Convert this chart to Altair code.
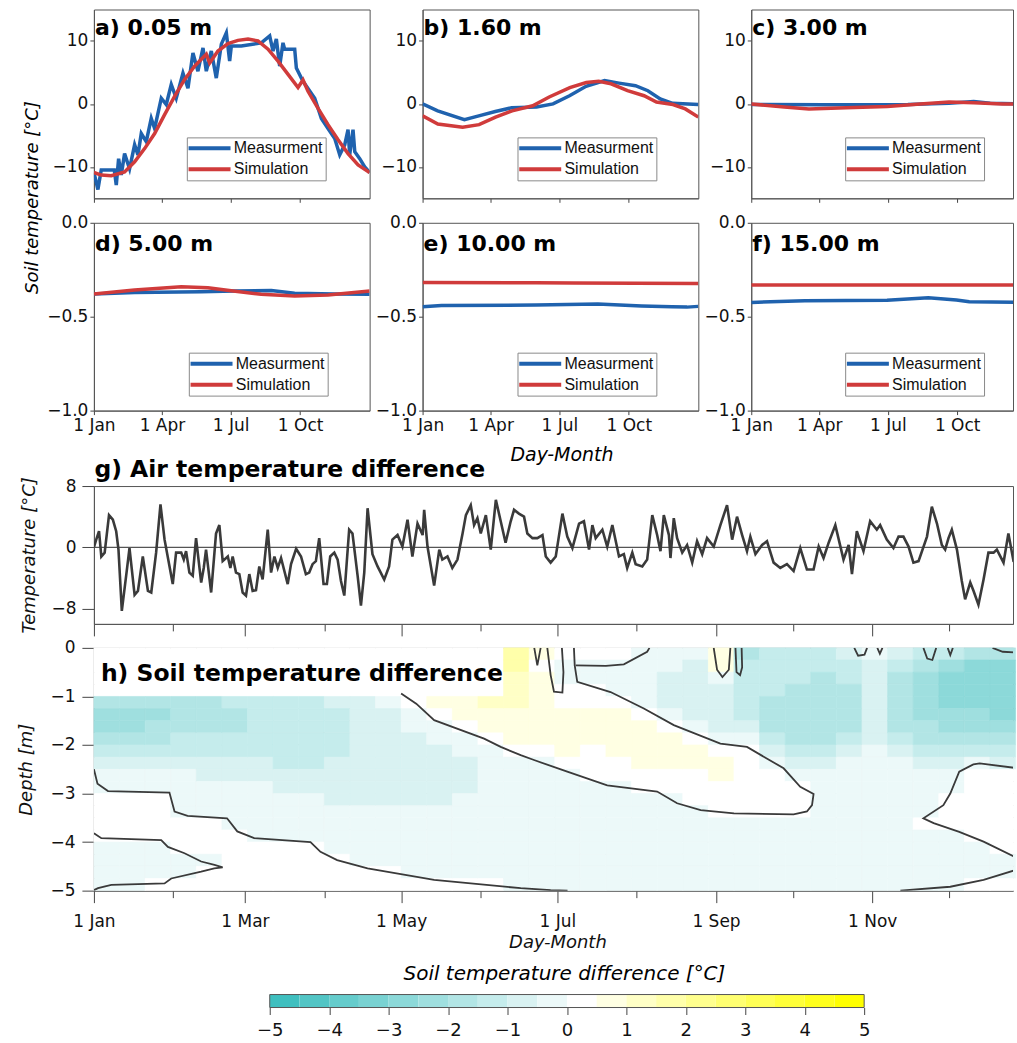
import altair as alt
import pandas as pd

FONT = "DejaVu Sans"
LEGFONT = "Liberation Sans"
BLUE = "#1f62ae"
RED = "#d03b3b"
INK = "#3a3a3a"
SERIES = ["Measurment", "Simulation"]

# ---------------- axis ticks (day of year) ----------------
month_start = [0, 31, 59, 90, 120, 151, 181, 212, 243, 273, 304, 334]
quarter_start = [0, 90, 181, 273]
QEXPR = ("datum.value == 0 ? '1 Jan' : datum.value == 90 ? '1 Apr' : "
         "datum.value == 181 ? '1 Jul' : datum.value == 273 ? '1 Oct' : ''")
HEXPR = ("datum.value == 0 ? '1 Jan' : datum.value == 59 ? '1 Mar' : "
         "datum.value == 120 ? '1 May' : datum.value == 181 ? '1 Jul' : "
         "datum.value == 243 ? '1 Sep' : datum.value == 304 ? '1 Nov' : ''")
MINOR_TEST = "indexof([31, 90, 151, 212, 273, 334], datum.value) >= 0"

# ---------------- panel a: 0.05 m ----------------
a_meas_day = [0, 5.3, 9.7, 27, 29.6, 32.7, 36.2, 40.6, 47.2, 53.9, 58.3, 62.7, 69.3, 75.9,
              80.4, 89.2, 95.8, 102.4, 109, 117.9, 124.5, 131.1, 137.7, 144.4, 148.8, 155.4,
              162, 168.7, 175.3, 179.7, 181.9, 195.1, 221.6, 232.7, 237.1, 241.5, 245.9,
              250.3, 252.5, 265.8, 268, 276.8, 292.3, 301.1, 309.9, 318.8, 325.4, 332,
              336.4, 338.6, 343, 345.3, 351.9, 358.5, 365]
a_meas = [-10.9, -13.6, -10.5, -10.5, -12.9, -8.7, -11.3, -7.9, -10.3, -6.5, -8.1, -4.7,
          -6.0, -2.3, -3.9, 0.9, -0.1, 3.1, 0.9, 4.9, 2.5, 8.1, 5.2, 8.9, 5.2, 8.4, 4.1, 9.5,
          11.3, 6.8, 9.2, 9.2, 9.7, 10.8, 8.4, 10.3, 6.0, 9.7, 8.7, 8.7, 5.7, 3.6, 0.9, -2.3,
          -3.9, -5.5, -8.1, -6.5, -4.1, -8.1, -4.1, -7.6, -8.7, -10.0, -10.9]
a_sim_day = [0, 9.7, 23, 40.6, 53.9, 67.1, 80.4, 93.6, 106.8, 120.1, 133.3, 148.8, 153.2,
             164.2, 177.5, 190.7, 204, 217.2, 230.5, 243.7, 257, 270.2, 276.8, 283.4, 296.7,
             309.9, 323.2, 336.4, 349.7, 365]
a_sim = [-10.9, -11.3, -11.4, -10.8, -9.2, -7.1, -4.7, -1.7, 1.2, 3.9, 6.0, 7.9, 6.5, 8.4,
         9.6, 10.1, 10.3, 10.0, 8.7, 6.8, 4.7, 2.6, 3.8, 2.0, -0.7, -3.3, -5.7, -7.9, -9.7,
         -10.9]

# ---------------- panel b: 1.60 m ----------------
b_meas_day = [0, 20, 55.4, 74.4, 96.3, 118.1, 150.9, 172.7, 194.5, 216.4, 240.9, 260, 281.8,
              298.2, 314.6, 331, 365]
b_meas = [0.0, -1.1, -2.5, -1.9, -1.2, -0.6, -0.5, 0.0, 1.3, 2.8, 3.7, 3.3, 2.9, 2.1, 0.8,
          0.1, -0.1]
b_sim_day = [0, 20.2, 53, 74.8, 96.6, 118.5, 145.8, 167.6, 194.9, 216.7, 233.1, 249.5, 271.3,
             293.2, 309.6, 331.4, 347.8, 365]
b_sim = [-1.9, -3.2, -3.7, -3.3, -2.1, -1.1, -0.3, 1.1, 2.6, 3.4, 3.6, 3.2, 2.1, 1.3, 0.3,
         -0.1, -0.8, -2.1]

# ---------------- panel c: 3.00 m ----------------
c_meas_day = [0, 98, 207.6, 262, 294.9, 316.7, 354]
c_meas = [-0.1, -0.15, -0.1, 0.1, 0.4, 0.1, 0.0]
c_sim_day = [0, 43.8, 76.5, 125.7, 180.3, 224, 262.2, 294.9, 333.1, 354]
c_sim = [0.0, -0.5, -0.8, -0.6, -0.4, 0.0, 0.3, 0.2, 0.0, 0.0]

# ---------------- panel d: 5.00 m ----------------
d_meas_day = [0, 53.8, 142, 186, 234.8, 265.7, 318.7, 365]
d_meas = [-0.379, -0.371, -0.367, -0.363, -0.360, -0.375, -0.379, -0.381]
d_sim_day = [0, 53.8, 115.6, 150.9, 181.7, 221.4, 265.7, 309.9, 365]
d_sim = [-0.379, -0.358, -0.340, -0.346, -0.362, -0.381, -0.390, -0.385, -0.363]

# ---------------- panel e: 10.00 m ----------------
e_meas_day = [0, 25, 150, 232, 290, 330, 350, 365]
e_meas = [-0.447, -0.440, -0.438, -0.433, -0.443, -0.447, -0.449, -0.445]
e_sim_day = [0, 150, 200, 365]
e_sim = [-0.318, -0.319, -0.321, -0.323]

# ---------------- panel f: 15.00 m ----------------
f_meas_day = [0, 71, 180, 234.7, 272, 289, 354]
f_meas = [-0.424, -0.415, -0.413, -0.399, -0.411, -0.420, -0.424]
f_sim_day = [0, 354]
f_sim = [-0.331, -0.331]

# ---------------- panel g: air temperature difference ----------------
air_day = [0, 0.9, 2.0, 2.9, 4.2, 5.9, 7.4, 8.7, 9.6, 10.9, 12.6, 13.9, 15.9, 17.2, 19.1, 21.1,
           22.4, 24.3, 26.0, 27.6, 30.8, 32.1, 34.1, 35.1, 36.0, 37.3, 38.6, 39.9, 41.9, 42.9,
           43.8, 45.8, 47.7, 49.0, 50.3, 52.3, 53.3, 54.2, 55.5, 56.8, 58.1, 59.4, 60.7, 62.0,
           63.3, 64.6, 65.9, 67.9, 69.2, 70.5, 71.8, 73.1, 75.7, 77.0, 79.0, 80.9, 82.8, 84.1,
           85.4, 86.7, 88.0, 89.7, 91.0, 92.3, 93.9, 95.2, 96.5, 97.8, 99.7, 101.0, 103.0,
           104.3, 105.6, 106.9, 108.8, 110.8, 113.4, 115.3, 116.6, 118.6, 120.5, 122.5, 124.4,
           126.4, 128.4, 129.0, 130.3, 132.9, 134.9, 136.1, 138.1, 140.0, 142.0, 144.0, 145.3,
           147.2, 148.5, 149.8, 151.1, 153.1, 155.0, 157.0, 158.9, 160.8, 162.8, 164.1, 166.0,
           168.0, 169.3, 171.3, 173.2, 175.2, 176.5, 178.4, 180.4, 183.0, 184.9, 186.9, 189.5,
           191.4, 193.4, 194.7, 196.0, 198.6, 200.5, 202.5, 205.1, 207.0, 208.3, 210.3, 211.6,
           214.2, 216.1, 218.1, 220.0, 221.3, 222.6, 224.6, 225.2, 226.5, 227.8, 229.8, 231.7,
           233.7, 235.6, 237.6, 239.5, 242.1, 244.7, 247.3, 249.3, 251.2, 253.2, 255.1, 256.4,
           258.4, 261.0, 262.9, 265.5, 268.1, 270.7, 273.3, 275.9, 278.5, 281.1, 283.1, 285.0,
           287.0, 289.6, 292.8, 294.8, 296.1, 298.0, 300.6, 303.2, 305.8, 307.1, 309.7, 312.3,
           314.3, 316.2, 318.2, 320.1, 322.1, 325.4, 327.3, 329.3, 331.2, 332.5, 333.8, 335.1,
           337.1, 339.0, 340.3, 342.3, 343.6, 345.5, 347.5, 349.4, 351.4, 352.7, 355.3, 357.2,
           359.2, 360.6]
air_diff = [0.0, 1.0, 2.1, -1.2, -0.7, 4.2, 3.6, 2.1, -0.3, -8.3, -3.7, -0.1, -6.2, -5.7, -1.2,
            -5.7, -5.9, -0.7, 5.6, 1.0, -4.8, -0.7, -0.7, -1.6, -0.5, -3.3, -3.7, 1.2, -4.6,
            -2.7, -0.3, -5.9, 1.8, 2.9, -1.8, -1.2, -2.7, -1.2, -3.3, -3.5, -5.9, -6.3, -3.5,
            -5.7, -5.6, -2.5, -4.2, 2.3, -3.3, -1.2, -2.7, -1.4, -4.8, -2.2, -0.2, -1.2, -3.5,
            -3.3, -2.2, -1.8, 1.2, -4.8, -4.8, -1.2, -0.7, -1.6, -4.4, -6.3, 2.3, 1.8, -3.7,
            -7.6, -3.3, 5.1, -0.9, -2.5, -4.2, -2.5, 1.0, 1.6, 0.1, 3.6, -1.2, 3.1, 1.6, 4.9,
            0.1, -5.0, -0.3, -1.6, -1.2, -2.7, -1.6, 1.8, 4.2, 5.5, 2.9, 3.8, 1.8, 4.2, -0.3,
            6.2, 3.4, 0.6, 3.4, 4.9, 4.4, 4.0, 1.8, 1.2, 1.2, 1.6, -1.2, -2.0, -1.2, 4.4, 1.4,
            -0.1, 3.1, 3.4, -0.3, 2.9, 1.2, 2.3, 0.1, 2.9, -1.2, -0.9, -2.7, -0.7, -2.2, -2.5,
            -1.6, 4.2, 1.6, -0.5, 4.2, 1.6, -1.4, 3.8, 1.2, -0.7, 0.3, -2.0, 0.8, -0.9, 1.2,
            0.1, 2.9, 5.5, 1.0, 4.0, 1.6, -0.5, 1.4, -0.9, 0.3, 0.8, -2.0, -2.7, -2.2, -3.1,
            -0.1, -2.9, -2.9, 0.1, -1.4, 0.6, 2.9, -1.6, 0.3, -3.5, 2.1, -0.5, 3.4, 2.3, 2.9,
            1.0, -0.1, 1.4, 1.4, 0.1, -2.0, -1.8, 1.4, 5.3, 3.1, 0.3, -0.3, 1.2, 2.3, -0.3,
            -4.4, -6.8, -4.6, -5.7, -7.5, -4.2, -0.7, -0.7, -0.3, -2.0, 1.8, -1.8, -2.0]

# ---------------- panel h: soil temperature difference field ----------------
# one string per 10-day column (1 Jan onwards), one character per 0.25 m depth cell (0 -> 5 m)
h_day_edges = [0, 10, 20, 30, 40, 50, 60, 70, 80, 90, 100, 110, 120, 130, 140, 150, 160, 170,
               180, 190, 200, 210, 220, 230, 240, 250, 260, 270, 280, 290, 300, 310, 320, 330,
               340, 350, 360]
h_depth_edges = [0, -0.25, -0.5, -0.75, -1.0, -1.25, -1.5, -1.75, -2.0, -2.25, -2.5, -2.75,
                 -3.0, -3.25, -3.5, -3.75, -4.0, -4.25, -4.5, -4.75, -5.0]
h_columns = [
    "00004554321100001111", "00004554321100001111", "00004544321100001110",
    "00004443321111000110", "00004443322111000100", "00003443322111100000",
    "00003333322111110000", "00003333332211110000", "00003333332211110000",
    "00002333322221111000", "00002222222221111100", "00001222222221111100",
    "00000112222221111110", "0000a011222221111110", "0000aa01122211111110",
    "0000baa0111111111110", "ccbbbaaa011111111111", "a0aaaaaa011111111111",
    "01100aaaa01111111111", "01100aaa000111111111", "01110aaaa00111111111",
    "111110aaaa0011111111", "1122210aaa0011111111", "12222210aa0001111111",
    "aa1222210aa000111111", "43333321000000111111", "33334443210000111111",
    "33344444321000111111", "33444444321111111111", "23344443211111111111",
    "12222222111111111111", "23444443211111111111", "34555544321111011111",
    "35666554321100011111", "46666554310000001110", "46666654320000000110",
]
h_class_value = {"6": -2.75, "5": -2.25, "4": -1.75, "3": -1.25, "2": -0.75, "1": -0.25,
                 "0": 0.25, "a": 0.75, "b": 1.25, "c": 1.75}

# zero contour lines: (name, day, depth)
contour_lines = [
    ("A", [0, 1.4, 5.5, 29.5, 31.5, 36.6, 52, 56, 62.6, 84.6, 88.5, 95, 106.9, 132.9, 166.7,
           178.4, 185],
          [-2.5, -2.8, -2.95, -2.98, -3.37, -3.46, -3.51, -3.78, -3.92, -4.0, -4.2, -4.37,
           -4.54, -4.78, -4.95, -4.99, -5.0]),
    ("B", [0, 2.9, 26.3, 28.9, 35.4, 41.9, 47.1, 50.3, 47, 41.9, 30.2, 27.6, 6.8, 1.6, 0],
          [-3.82, -3.92, -3.96, -4.1, -4.23, -4.4, -4.47, -4.52, -4.54, -4.61, -4.75, -4.85,
           -4.88, -4.95, -4.99]),
    ("C", [120, 125.9, 132.9, 152.4, 158.9, 166.7, 171.9, 184.9, 200.5, 220, 227.8, 237, 250,
           273.3, 278.5, 280.5, 281.1, 275.9, 269.4, 255.1, 244.7, 226.5, 214.8, 201.8, 188.8,
           187.8, 187.5],
          [-0.94, -1.15, -1.49, -1.87, -2.04, -2.21, -2.31, -2.55, -2.83, -2.96, -3.2, -3.34,
           -3.41, -3.43, -3.37, -3.24, -3.01, -2.86, -2.48, -2.04, -1.97, -1.59, -1.25, -0.91,
           -0.70, -0.36, 0.0]),
    ("D", [315, 334.5, 347.5, 361], [-5.0, -4.92, -4.78, -4.56]),
    ("E", [361, 346, 343.5, 338, 334.5, 331.8, 324, 328, 338, 347.5, 361],
          [-2.48, -2.38, -2.4, -2.55, -3.0, -3.24, -3.51, -3.61, -3.79, -3.99, -4.34]),
    ("F", [188.2, 200, 207, 216.1, 217], [-0.36, -0.37, -0.34, -0.08, 0.0]),
    ("P1", [177.1, 178.4, 179.7, 183, 183.4, 182.8], [0.0, -0.56, -0.9, -0.92, -0.5, 0.0]),
    ("P2", [172, 173.2, 174.5], [0.0, -0.36, 0.0]),
    ("S1", [242.1, 243.4, 245.5, 248, 248.6], [0.0, -0.45, -0.6, -0.45, 0.0]),
    ("S2", [250.6, 251, 252.4, 253.2, 253], [0.0, -0.5, -0.56, -0.4, 0.0]),
    ("B1", [297, 298.5, 301, 302], [0.0, -0.16, -0.14, 0.0]),
    ("B2", [306, 307, 308], [0.0, -0.12, 0.0]),
    ("B3", [324, 325.5, 327.5, 329], [0.0, -0.22, -0.25, 0.0]),
    ("B4", [333.5, 334.5, 335.5], [0.0, -0.15, 0.0]),
    ("T1", [351, 355, 361], [0.0, -0.08, -0.1]),
]

# ---------------- colour bar ----------------
cb_edges = [-5.0, -4.5, -4.0, -3.5, -3.0, -2.5, -2.0, -1.5, -1.0, -0.5, 0.0,
            0.5, 1.0, 1.5, 2.0, 2.5, 3.0, 3.5, 4.0, 4.5, 5.0]
cb_ticks = [-5, -4, -3, -2, -1, 0, 1, 2, 3, 4, 5]
DIFF_COLORS = ["#3fbfbf", "#52c5c5", "#65cccc", "#79d2d2", "#8cd9d9", "#9fdfdf", "#b2e5e5",
               "#c5ecec", "#d9f2f2", "#ecf9f9", "#ffffff", "#ffffe3", "#ffffc6", "#ffffaa",
               "#ffff8e", "#ffff71", "#ffff55", "#ffff39", "#ffff1c", "#ffff00"]


def diff_scale():
    return alt.Scale(type="threshold", domain=cb_edges[1:-1], range=DIFF_COLORS)


def year_scale(xmax):
    return alt.Scale(domain=[0, xmax], nice=False, zero=False)


def soil_panel(tag, md, mv, sd, sv, xmax, width, height, ydom, yvals, yfmt, labels,
               leg_x, leg_y, title_off):
    df = pd.DataFrame({
        "day": list(md) + list(sd),
        "temp": list(mv) + list(sv),
        "series": [SERIES[0]] * len(md) + [SERIES[1]] * len(sd),
    })
    return alt.Chart(df).mark_line(strokeWidth=3.5, clip=True).encode(
        x=alt.X("day:Q", scale=year_scale(xmax),
                axis=alt.Axis(values=quarter_start, labels=labels, labelExpr=QEXPR,
                              tickSize=4, labelPadding=3, labelFlush=False, title=None,
                              grid=False)),
        y=alt.Y("temp:Q", scale=alt.Scale(domain=ydom, nice=False, zero=False),
                axis=alt.Axis(values=yvals, format=yfmt, tickSize=4, labelPadding=2,
                              title=None, grid=False)),
        color=alt.Color("series:N", scale=alt.Scale(domain=SERIES, range=[BLUE, RED]),
                        legend=alt.Legend(title=None, orient="none", legendX=leg_x,
                                          legendY=leg_y, symbolType="M-1.85,0H6.55",
                                          symbolSize=100, symbolStrokeWidth=4,
                                          labelFont=LEGFONT, labelFontSize=16,
                                          labelOffset=28, rowPadding=5, padding=3,
                                          strokeColor="#8a8a8a", fillColor="white",
                                          labelColor="#111")),
    ).properties(
        width=width, height=height,
        title=alt.TitleParams(tag, anchor="start", frame="group", offset=title_off,
                              baseline="alphabetic", dx=1, fontSize=22, fontWeight="bold",
                              font=FONT),
    )


T_DOM, T_VALS = [-15, 15], [-10, 0, 10]
D_DOM, D_VALS = [-1, 0], [-1.0, -0.5, 0.0]
pa = soil_panel("a) 0.05 m", a_meas_day, a_meas, a_sim_day, a_sim, 365, 276, 189,
                T_DOM, T_VALS, "d", False, 93, 128, -48)
pb = soil_panel("b) 1.60 m", b_meas_day, b_meas, b_sim_day, b_sim, 365, 276, 189,
                T_DOM, T_VALS, "d", False, 95, 128, -48)
pc = soil_panel("c) 3.00 m", c_meas_day, c_meas, c_sim_day, c_sim, 347, 262, 189,
                T_DOM, T_VALS, "d", False, 94, 128, -48)
pd_ = soil_panel("d) 5.00 m", d_meas_day, d_meas, d_sim_day, d_sim, 365, 276, 188,
                 D_DOM, D_VALS, ".1f", True, 95, 130, -59)
pe = soil_panel("e) 10.00 m", e_meas_day, e_meas, e_sim_day, e_sim, 365, 276, 188,
                D_DOM, D_VALS, ".1f", True, 95, 130, -59)
pf = soil_panel("f) 15.00 m", f_meas_day, f_meas, f_sim_day, f_sim, 347, 262, 188,
                D_DOM, D_VALS, ".1f", True, 94, 130, -59)

top6 = alt.concat(
    pa, pb, pc, pd_, pe, pf, columns=3, spacing={"row": 9.5, "column": 4},
    title=alt.TitleParams("Soil temperature [°C]", orient="left", anchor="middle",
                          baseline="bottom", fontStyle="italic", fontWeight="normal",
                          fontSize=18, font=FONT, offset=-14, dx=24),
).resolve_scale(x="independent", y="independent", color="independent"
).resolve_legend(color="independent")

tick_dash = {"condition": {"test": MINOR_TEST, "value": [7, 40]}, "value": [20, 0]}

# ---- g ----
air_df = pd.DataFrame({"day": air_day, "diff": air_diff})
G_SCALE_Y = alt.Scale(domain=[-10, 8], nice=False, zero=False)
g_zero = alt.Chart(air_df).mark_line(color="#555555", strokeWidth=1.3, clip=True).encode(
    x=alt.X("day:Q", scale=year_scale(359),
            axis=alt.Axis(orient="top", ticks=False, labels=False, domain=False, grid=False,
                          title="g) Air temperature difference", titleX=0, titleY=-10,
                          titleAlign="left", titleBaseline="alphabetic", titleFontSize=23.5,
                          titleFontWeight="bold", titleFontStyle="normal", titleColor="#000")),
    y=alt.Y(datum=0, scale=G_SCALE_Y),
)
g_line = alt.Chart(air_df).mark_line(color=INK, strokeWidth=2.6, clip=True).encode(
    x=alt.X("day:Q", scale=year_scale(359),
            axis=alt.Axis(values=month_start, labels=False, tickSize=12, tickDash=tick_dash,
                          title=None, grid=False)),
    y=alt.Y("diff:Q", scale=G_SCALE_Y,
            axis=alt.Axis(values=[-8, -4, 0, 4, 8], tickSize=12, labelPadding=6,
                          title="Temperature [°C]", titlePadding=12, grid=False)),
)
g = alt.layer(g_zero, g_line).resolve_axis(x="independent").properties(
    width=920, height=138,
    title=alt.TitleParams("Day-Month", anchor="start", frame="group", dx=417, offset=-23,
                          baseline="alphabetic", fontStyle="italic", fontWeight="normal",
                          fontSize=19, font=FONT),
)

# ---- h ----
cell_rows = []
for ci, col in enumerate(h_columns):
    for ri, code in enumerate(col):
        cell_rows.append({"d0": h_day_edges[ci], "d1": h_day_edges[ci + 1],
                          "z0": h_depth_edges[ri], "z1": h_depth_edges[ri + 1],
                          "val": h_class_value[code]})
cells = pd.DataFrame(cell_rows)

line_rows = []
for name, days, zs in contour_lines:
    for i, (d, z) in enumerate(zip(days, zs)):
        line_rows.append({"line": name, "idx": i, "day": d, "z": z})
contours = pd.DataFrame(line_rows)

H_SCALE_Y = alt.Scale(domain=[-5, 0], nice=False, zero=False)
heat = alt.Chart(cells).mark_rect(strokeWidth=0.6).encode(
    x=alt.X("d0:Q", scale=year_scale(359),
            axis=alt.Axis(values=month_start, labelExpr=HEXPR, labelFlush=False, tickSize=12,
                          tickDash=tick_dash, labelPadding=11, title="Day-Month",
                          titlePadding=4, titleX=464, grid=False)),
    x2="d1:Q",
    y=alt.Y("z0:Q", scale=H_SCALE_Y,
            axis=alt.Axis(values=[0, -1, -2, -3, -4, -5], tickSize=12, labelPadding=7,
                          title="Depth  [m]", titlePadding=14, grid=False)),
    y2="z1:Q",
    color=alt.Color("val:Q", scale=diff_scale(), legend=None),
    stroke=alt.Stroke("val:Q", scale=diff_scale(), legend=None),
)
lines = alt.Chart(contours).mark_line(color=INK, strokeWidth=1.8, clip=True).encode(
    x=alt.X("day:Q", scale=year_scale(359), title="Day-Month"),
    y=alt.Y("z:Q", scale=H_SCALE_Y, title="Depth  [m]"),
    detail="line:N",
    order="idx:Q",
)
h = alt.layer(heat, lines).properties(
    width=920, height=243,
    title=alt.TitleParams("h) Soil temperature difference", anchor="start", frame="group",
                          offset=-66, baseline="alphabetic", dx=7, fontSize=23.5,
                          fontWeight="bold", font=FONT),
)

# ---- colour bar ----
cb_df = pd.DataFrame({"lo": cb_edges[:-1], "hi": cb_edges[1:]})
cb_df["mid"] = (cb_df["lo"] + cb_df["hi"]) / 2
CB_SCALE = alt.Scale(domain=[-7.958, 7.504], nice=False, zero=False)
cb_bar = alt.Chart(cb_df).mark_rect().encode(
    x=alt.X("lo:Q", scale=CB_SCALE,
            axis=alt.Axis(values=cb_ticks, format="d", domain=False, tickSize=7,
                          labelPadding=7, labelFontSize=18, labelFlush=False, title=None,
                          grid=False)),
    x2="hi:Q",
    color=alt.Color("mid:Q", scale=diff_scale(), legend=None),
)
cb_frame = alt.Chart(pd.DataFrame({"lo": [cb_edges[0]], "hi": [cb_edges[-1]]})).mark_rect(
    fillOpacity=0, stroke="#555555", strokeWidth=1).encode(
    x=alt.X("lo:Q", scale=CB_SCALE, title=None),
    x2="hi:Q",
)
cbar = alt.layer(cb_bar, cb_frame).properties(
    width=920, height=13, view=alt.ViewBackground(strokeOpacity=0),
    title=alt.TitleParams("Soil temperature difference [°C]", anchor="middle", frame="group",
                          dx=11, offset=-6, baseline="alphabetic", fontStyle="italic",
                          fontWeight="normal", fontSize=20, font=FONT),
)

upper = alt.vconcat(top6, g, spacing=11).resolve_scale(
    x="independent", y="independent", color="independent")
lower = alt.vconcat(h, cbar, spacing=11).resolve_scale(
    x="independent", y="independent", color="independent", stroke="independent")

chart = alt.vconcat(upper, lower, spacing=1).resolve_scale(
    x="independent", y="independent", color="independent"
).properties(
    padding={"left": 17, "top": 8, "right": 0, "bottom": 0},
).configure_view(
    stroke="#555555", strokeWidth=1
).configure_axis(
    labelFont=FONT, labelFontSize=17, labelColor="#111111",
    titleFont=FONT, titleFontSize=18, titleFontStyle="italic", titleFontWeight="normal",
    titleColor="#111111", domainColor="#555555", tickColor="#444444", grid=False
).configure_title(
    font=FONT, color="#000000"
)

chart.save("out.html", embed_options={"renderer": "svg", "actions": False})
